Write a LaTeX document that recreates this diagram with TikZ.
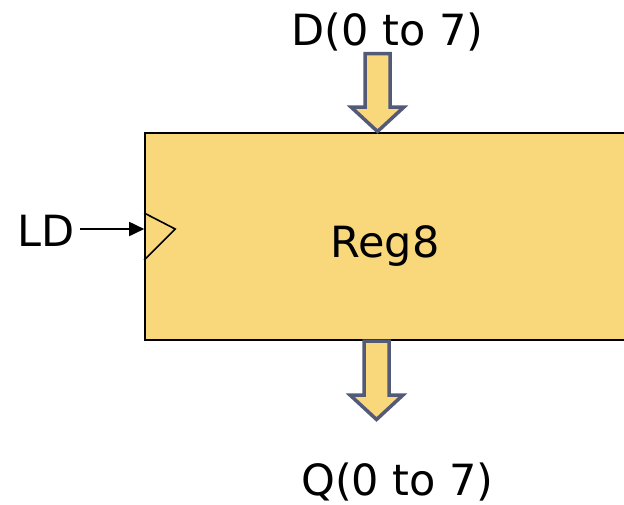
\documentclass[tikz,border=0pt]{standalone}
\usepackage{fontspec}
\setmainfont{DejaVu Sans}
\usetikzlibrary{arrows.meta}
\definecolor{regfill}{HTML}{F9D87C}
\definecolor{busline}{HTML}{535A78}

\begin{document}
\begin{tikzpicture}[x=1pt,y=-1pt,>={Triangle[length=15pt,width=14pt]},
  lbl/.style={font=\fontsize{43}{48}\selectfont,anchor=base,inner sep=0pt},
  bus/.style={draw=busline,line width=3.5pt,fill=regfill,line join=miter}]

\clip (0,0) rectangle (624,504);

\node[draw, line width=1.6pt, fill=regfill, inner sep=0pt,
      minimum width=490pt, minimum height=207pt] (reg) at (390,236.5) {};
\node[lbl] (name) at (385,257) {Reg8};
\node[lbl] (d) at (387.5,45) {D(0 to 7)};
\node[lbl] (q) at (397.5,495) {Q(0 to 7)};
\node[lbl, inner xsep=5pt] (ld) at (46.5,246.7) {LD};

\coordinate (clk) at (reg.west |- 0,229);
\coordinate (din) at (377.5,53.5);
\coordinate (qout) at (376.5,341);

% clock input
\draw[->, line width=1.8pt] (ld.east |- clk) -- (clk);
\draw[line width=1.6pt] (clk) +(0,-16) -- +(31,0) -- +(0,31);

% bus arrows
\draw[bus] (din) +(-12.5,0) -- +(12.5,0) -- +(12.5,53.5) -- +(26.5,53.5)
  -- +(0,78) -- +(-26.5,53.5) -- +(-12.5,53.5) -- cycle;
\draw[bus] (qout) +(-12.5,0) -- +(12.5,0) -- +(12.5,54) -- +(26.5,54)
  -- +(0,78.5) -- +(-26.5,54) -- +(-12.5,54) -- cycle;

\end{tikzpicture}
\end{document}
